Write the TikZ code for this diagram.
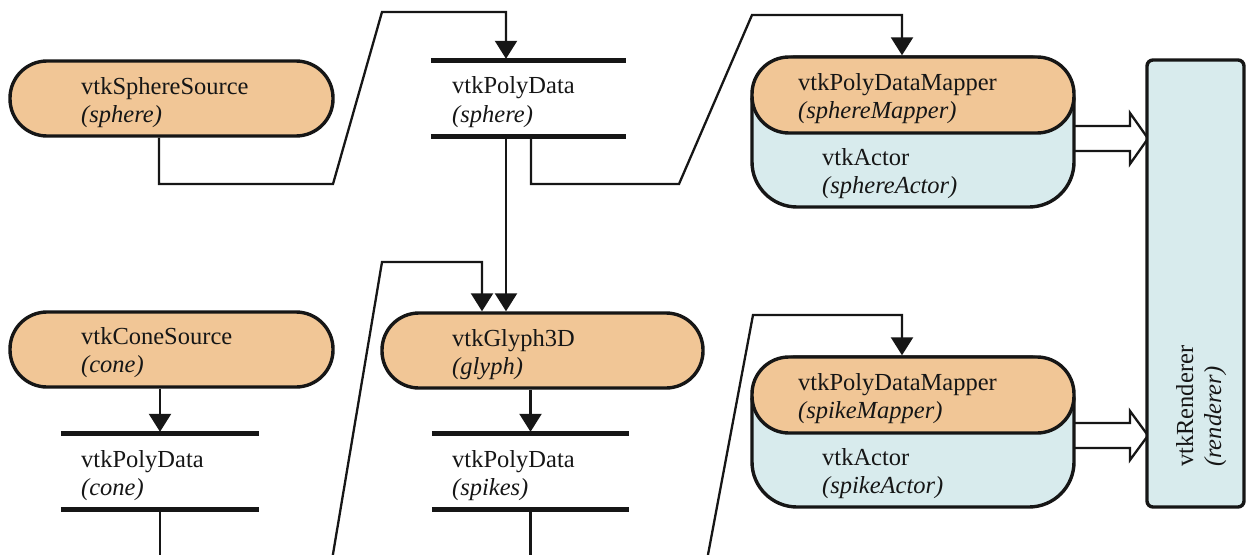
\documentclass[tikz,border=0pt]{standalone}
\usepackage{fontspec}
\setmainfont{Liberation Serif}
\usetikzlibrary{arrows.meta,calc}
\definecolor{srcfill}{RGB}{241,198,150}
\definecolor{actfill}{RGB}{216,235,237}
\definecolor{ink}{RGB}{22,22,22}
\tikzset{
  pill/.style={draw=ink, line width=3.4pt, fill=srcfill, rounded corners=37pt, inner sep=0pt},
  actorbox/.style={draw=ink, line width=3.4pt, fill=actfill, rounded corners=45pt, inner sep=0pt},
  renbox/.style={draw=ink, line width=3.4pt, fill=actfill, rounded corners=6pt, inner sep=0pt},
  databox/.style={inner sep=0pt},
  bar/.style={line width=5pt, draw=ink},
  wire/.style={line width=2.3pt, draw=ink},
  feed/.style={wire, -{Triangle[width=22pt,length=18pt]}},
  hollow/.style={line width=2.3pt, draw=ink, fill=white, line join=miter},
  lbl/.style={anchor=base west, inner sep=0pt, text=ink, font=\fontsize{24.5}{28}\selectfont},
  ital/.style={lbl, font=\fontsize{24.5}{28}\selectfont\itshape},
}
\begin{document}
\begin{tikzpicture}[x=1pt, y=-1pt]
\useasboundingbox (0,0) rectangle (1247,554);

% ---- double arrows into the renderer (drawn first, boxes overlap their ends)
\draw[hollow] (1074,126) -- (1130,126) -- (1130,113) -- (1148,138.5) -- (1130,164) -- (1130,151) -- (1074,151);
\draw[hollow] (1074,423) -- (1130,423) -- (1130,411) -- (1148,435.5) -- (1130,460) -- (1130,448) -- (1074,448);

% ---- process objects
\node[pill, minimum width=323, minimum height=75] (ss) at (171.5,98.5) {};
\node[pill, minimum width=323, minimum height=75] (cs) at (171.5,349.5) {};
\node[pill, minimum width=321, minimum height=75] (gl) at (542.5,350.5) {};

% ---- actors with their mappers on top
\node[actorbox, minimum width=322, minimum height=150] (sa) at (913,132) {};
\node[pill, minimum width=322, minimum height=76] (sm) at (913,95) {};
\node[actorbox, minimum width=322, minimum height=150] (ka) at (913,432) {};
\node[pill, minimum width=322, minimum height=76] (km) at (913,395) {};

% ---- renderer
\node[renbox, minimum width=97, minimum height=447] (ren) at (1195.5,283.5) {};

% ---- data objects (bars above and below)
\node[databox, minimum width=195, minimum height=75] (pds) at (528.5,98.5) {};
\node[databox, minimum width=198, minimum height=75] (pdc) at (160,471.5) {};
\node[databox, minimum width=197, minimum height=75] (pdsp) at (530.5,471.5) {};
\foreach \d in {pds,pdc,pdsp}{
  \draw[bar] (\d.north west) -- (\d.north east);
  \draw[bar] (\d.south west) -- (\d.south east);
}

% ---- labels
\node[lbl]  (ss-a) at (81,94)  {vtkSphereSource};
\node[ital] (ss-b) at (81,122) {(sphere)};
\node[lbl]  (pds-a) at (452,93)  {vtkPolyData};
\node[ital] (pds-b) at (452,122) {(sphere)};
\node[lbl]  (sm-a) at (798,90)  {vtkPolyDataMapper};
\node[ital] (sm-b) at (798,118) {(sphereMapper)};
\node[lbl]  (sa-a) at (822,165) {vtkActor};
\node[ital] (sa-b) at (822,193) {(sphereActor)};

\node[lbl]  (cs-a) at (81,344) {vtkConeSource};
\node[ital] (cs-b) at (81,372) {(cone)};
\node[lbl]  (gl-a) at (452,346) {vtkGlyph3D};
\node[ital] (gl-b) at (452,374) {(glyph)};
\node[lbl]  (km-a) at (798,390) {vtkPolyDataMapper};
\node[ital] (km-b) at (798,418) {(spikeMapper)};
\node[lbl]  (ka-a) at (822,465) {vtkActor};
\node[ital] (ka-b) at (822,493) {(spikeActor)};

\node[lbl]  (pdc-a) at (81,467) {vtkPolyData};
\node[ital] (pdc-b) at (81,495) {(cone)};
\node[lbl]  (pdsp-a) at (452,467) {vtkPolyData};
\node[ital] (pdsp-b) at (452,495) {(spikes)};

\node[lbl,  rotate=90] (ren-a) at (1193,467) {vtkRenderer};
\node[ital, rotate=90] (ren-b) at (1221,467) {(renderer)};

% ---- connectors
\coordinate (a1) at (333,184);
\coordinate (a2) at (382,12);
\draw[feed, shorten >=2pt] ([xshift=-12.5pt]ss.south) |- (a1) -- (a2) -| ([xshift=-22.5pt]pds.north);

\coordinate (pdsL) at ([xshift=-22.5pt]pds.south);
\draw[feed] (pdsL) -- (pdsL |- gl.north);

\coordinate (pdsR) at ([xshift=2.5pt]pds.south);
\coordinate (b1) at (679,184);
\coordinate (b2) at (752,15);
\draw[feed] (pdsR) |- (b1) -- (b2) -| ([xshift=-11pt]sm.north);

\draw[feed, shorten >=2pt] (cs.south -| pdc.north) -- (pdc.north);
\coordinate (coneOut) at (160,560);
\draw[wire] (pdc.south) -- (coneOut);

\coordinate (coneIn) at (332,560);
\coordinate (c1) at (382,262);
\draw[feed] (coneIn) -- (c1) -| ([xshift=-60.5pt]gl.north);

\draw[feed, shorten >=2pt] (gl.south -| pdsp.north) -- (pdsp.north);
\coordinate (spikesOut) at (530.5,560);
\draw[wire] (pdsp.south) -- (spikesOut);

\coordinate (spikesIn) at (707,560);
\coordinate (d1) at (753,315);
\draw[feed] (spikesIn) -- (d1) -| ([xshift=-11pt]km.north);
\end{tikzpicture}
\end{document}
